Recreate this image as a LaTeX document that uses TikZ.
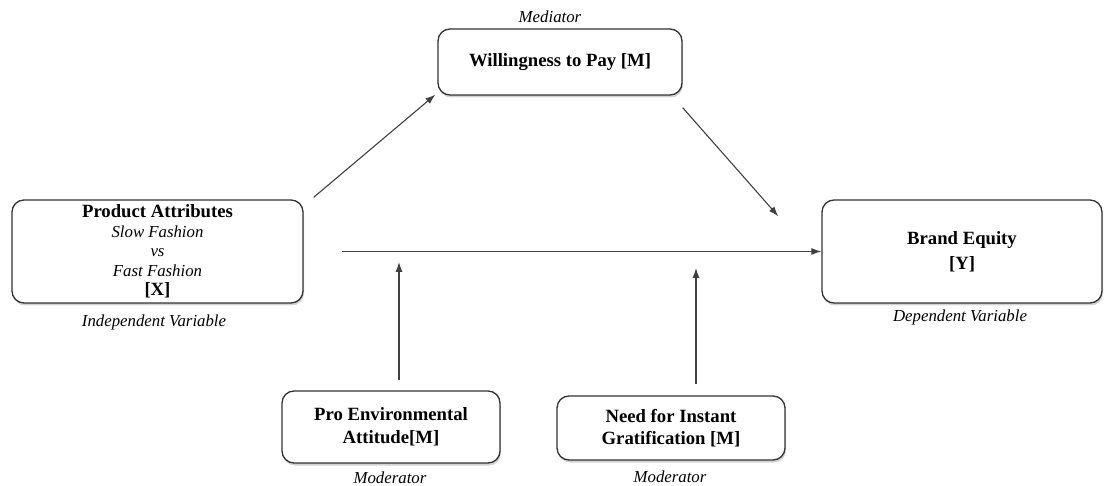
\documentclass[tikz,border=0pt]{standalone}
\usepackage{fontspec}
\setmainfont{Liberation Serif}
\usetikzlibrary{arrows.meta,calc,shadows}

\tikzset{
  box/.style={draw=black!80, line width=1.3pt, rounded corners=12pt, fill=white,
    align=center, inner sep=0pt,
    drop shadow={opacity=0.35, shadow xshift=1pt, shadow yshift=-2.5pt},
    font=\bfseries\fontsize{18.7}{23}\selectfont},
  note/.style={font=\itshape\fontsize{16.8}{20}\selectfont},
  arr/.style={-{Latex[length=10pt,width=7pt]}, draw=black!75, line width=1.1pt}
}

\begin{document}
\begin{tikzpicture}[x=1pt, y=-1pt]
\useasboundingbox (0,0) rectangle (1104,486);

% boxes
\node[box, minimum width=291pt, minimum height=103pt,
  font=\bfseries\fontsize{18.7}{19.5}\selectfont] (attr) at (157.5,251.5)
  {Product Attributes\\
   {\mdseries\itshape\fontsize{16.8}{19.5}\selectfont Slow Fashion}\\
   {\mdseries\itshape\fontsize{16.8}{19.5}\selectfont vs}\\
   {\mdseries\itshape\fontsize{16.8}{19.5}\selectfont Fast Fashion}\\
   {[X]}};
\node[box, minimum width=244pt, minimum height=66pt] (wtp) at (560,62) {Willingness to Pay [M]};
\node[box, minimum width=280pt, minimum height=103pt,
  font=\bfseries\fontsize{18.7}{25}\selectfont] (equity) at (962,251.5)
  {Brand Equity\\ {[Y]}};
\node[box, minimum width=218pt, minimum height=72pt] (proenv) at (391,427)
  {Pro Environmental\\ Attitude[M]};
\node[box, minimum width=228pt, minimum height=64pt,
  font=\bfseries\fontsize{18.7}{22}\selectfont] (instant) at (671,428)
  {Need for Instant\\ Gratification [M]};

% labels
\node[note] (medlbl) at (550,17) {Mediator};
\node[note] (indlbl) at (154,322) {Independent Variable};
\node[note] (deplbl) at (960,317) {Dependent Variable};
\node[note] (modlbl1) at (390,478) {Moderator};
\node[note] (modlbl2) at (670,477) {Moderator};

% arrows
\coordinate (mod1) at (399,262);
\coordinate (mod2) at (696,268);
\draw[arr] ($(attr.north east)+(10,-2)$) -- ($(wtp.south west)+(-2,-1)$);
\draw[arr] ($(wtp.south east)+(0,12)$) -- ($(equity.north west)+(-43,17)$);
\draw[arr] ($(attr.east)+(38,0)$) -- (equity.west);
\draw[arr] ($(mod1 |- proenv.north)+(0,-10)$) -- (mod1);
\draw[arr] ($(mod2 |- instant.north)+(0,-11)$) -- (mod2);
\end{tikzpicture}
\end{document}
